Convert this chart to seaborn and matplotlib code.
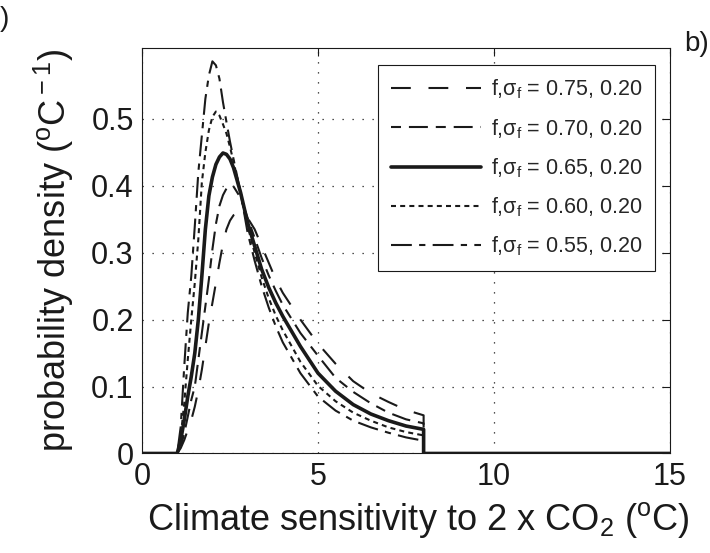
import matplotlib
matplotlib.use('Agg')
import matplotlib.pyplot as plt
import pandas as pd
import seaborn as sns

# climate sensitivity (deg C); 8.0 is listed twice for the cut-off drop
sens = [0, 1.0, 1.1, 1.2, 1.3, 1.4, 1.5, 1.6, 1.7, 1.8, 1.9, 2.0, 2.1, 2.2,
        2.3, 2.4, 2.5, 2.6, 2.8, 3.0, 3.2, 3.4, 3.6, 3.8, 4.0, 4.5, 5.0, 5.5,
        6.0, 6.5, 7.0, 7.5, 8.0, 8.0, 15]

# probability density, one list per (f, sigma_f)
pdf_075 = [0, 0, 0.008, 0.02, 0.035, 0.05, 0.07, 0.095, 0.125, 0.16, 0.195,
           0.225, 0.255, 0.285, 0.313, 0.335, 0.348, 0.356, 0.36, 0.352, 0.335,
           0.31, 0.285, 0.26, 0.24, 0.2, 0.164, 0.134, 0.108, 0.09, 0.077,
           0.065, 0.057, 0, 0]
pdf_070 = [0, 0, 0.01, 0.03, 0.055, 0.08, 0.10, 0.14, 0.18, 0.22, 0.26,
           0.305, 0.343, 0.37, 0.386, 0.396, 0.40, 0.399, 0.382, 0.352, 0.322,
           0.292, 0.266, 0.243, 0.222, 0.18, 0.146, 0.113, 0.092, 0.075, 0.061,
           0.051, 0.045, 0, 0]
pdf_065 = [0, 0, 0.02, 0.05, 0.085, 0.115, 0.15, 0.2, 0.265, 0.335, 0.385,
           0.413, 0.432, 0.443, 0.449, 0.447, 0.44, 0.427, 0.39, 0.345, 0.31,
           0.275, 0.248, 0.225, 0.205, 0.16, 0.12, 0.093, 0.073, 0.059, 0.049,
           0.041, 0.036, 0, 0]
pdf_060 = [0, 0, 0.025, 0.075, 0.14, 0.2, 0.255, 0.32, 0.405, 0.45, 0.483,
           0.503, 0.511, 0.505, 0.492, 0.478, 0.458, 0.436, 0.39, 0.34, 0.30,
           0.263, 0.232, 0.206, 0.184, 0.137, 0.101, 0.078, 0.061, 0.049, 0.039,
           0.032, 0.027, 0, 0]
pdf_055 = [0, 0, 0.04, 0.13, 0.21, 0.265, 0.34, 0.42, 0.475, 0.53, 0.565,
           0.586, 0.58, 0.56, 0.525, 0.495, 0.466, 0.44, 0.39, 0.33, 0.288,
           0.25, 0.218, 0.19, 0.166, 0.12, 0.085, 0.064, 0.049, 0.039, 0.031,
           0.024, 0.019, 0, 0]

labels = ['0.75, 0.20', '0.70, 0.20', '0.65, 0.20', '0.60, 0.20', '0.55, 0.20']
x_ticks = [0, 5, 10, 15]
y_ticks = [0, 0.1, 0.2, 0.3, 0.4, 0.5]
y_ticklabels = ['0', '0.1', '0.2', '0.3', '0.4', '0.5']

curves = [pdf_075, pdf_070, pdf_065, pdf_060, pdf_055]
styles = [
    dict(linestyle=(0, (9.5, 8.5)), linewidth=1.5),
    dict(linestyle=(0, (4.8, 3.8, 9.1, 3.8)), linewidth=1.5),
    dict(linestyle='-', linewidth=2.6),
    dict(linestyle=(0, (2.4, 2.0)), linewidth=1.5),
    dict(linestyle=(0, (10, 3.5, 3, 3.5)), linewidth=1.5),
]

sns.set_theme(style='white')
plt.rcParams['font.family'] = ['Liberation Sans', 'DejaVu Sans']
plt.rcParams['mathtext.fontset'] = 'custom'
plt.rcParams['mathtext.rm'] = 'Liberation Sans'
plt.rcParams['mathtext.it'] = 'Liberation Sans'

fig = plt.figure(figsize=(7.1, 5.53), dpi=100)
ax = fig.add_axes([0.2, 0.18, 0.7437, 0.7333])

for vals, lab, st in zip(curves, labels, styles):
    df = pd.DataFrame({'S': sens, 'pdf': vals})
    sns.lineplot(data=df, x='S', y='pdf', estimator=None, sort=False,
                 color='k', label=r'f,$\sigma_{\rm f}$ = ' + lab, ax=ax, **st)

ax.set_xlim(0, 15)
ax.set_ylim(0, 0.606)
ax.set_xticks(x_ticks)
ax.set_xticklabels([str(t) for t in x_ticks])
ax.set_yticks(y_ticks)
ax.set_yticklabels(y_ticklabels)
ax.grid(True, color='k', linestyle=(0, (1, 7)), linewidth=0.9)
ax.tick_params(direction='in', length=6, width=0.8, top=True, right=True,
               labelsize=22, pad=6, colors='k')
for sp in ax.spines.values():
    sp.set_color('k')
    sp.set_linewidth(0.8)

ax.set_xlabel(r'Climate sensitivity to 2 x CO$_2$ ($^{\rm o}$C)', fontsize=26,
              color='k')
ax.xaxis.set_label_coords(0.523, -0.115)
ax.set_ylabel(r'probability density ($^{\rm o}$C$^{\rm -1}$)', fontsize=26,
              color='k', labelpad=11)

leg = ax.legend(loc='upper right', bbox_to_anchor=(0.9716, 0.958),
                borderaxespad=0, fontsize=15.5, handlelength=4.2,
                handletextpad=0.45, labelspacing=0.72, borderpad=0.6,
                frameon=True, fancybox=False, framealpha=1)
leg.get_frame().set_edgecolor('k')
leg.get_frame().set_linewidth(0.8)

# fragments of neighbouring panel labels at the edges of the crop
fig.text(0.0, 0.965, ')', fontsize=20, color='k', ha='left', va='center')
fig.text(0.963, 0.92, 'b)', fontsize=20, color='k', ha='left', va='center')

fig.savefig('out.png', dpi=100)
